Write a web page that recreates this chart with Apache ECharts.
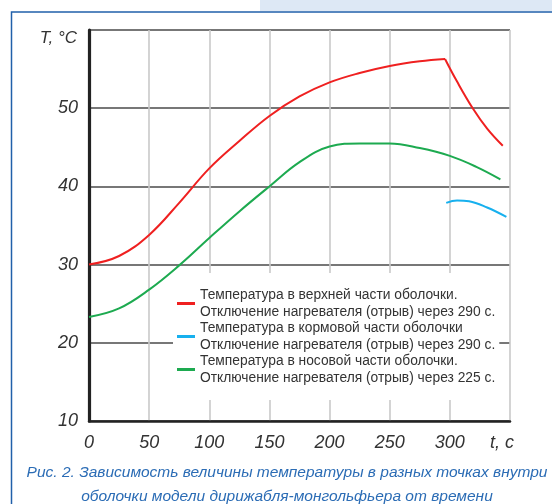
<!DOCTYPE html>
<html>
<head>
<meta charset="utf-8">
<script src="https://cdn.jsdelivr.net/npm/echarts@6/dist/echarts.min.js"></script>
<style>
  html, body { margin: 0; padding: 0; background: #fff; }
  #graph1 { width: 552px; height: 504px; }
</style>
</head>
<body>
<div id="graph1"></div>
<script>
var chart1 = echarts.init(document.getElementById('graph1'));

// значения: [t, c ; T, °C]
var redRise = [[0, 30], [25, 31.1], [50, 33.8], [75, 37.9], [100, 42.3], [125, 45.8], [150, 49.0],
    [175, 51.5], [200, 53.3], [225, 54.5], [250, 55.4], [275, 56.0], [296, 56.3]];
var redFall = [[296, 56.3], [306, 53.4], [319, 50], [331, 47.4], [344, 45.2]];
var blueData = [[297, 37.9], [306, 38.2], [316, 38.1], [331, 37.3], [347, 36.1]];
var greenData = [[0, 23.3], [25, 24.4], [50, 26.8], [75, 29.9], [100, 33.4], [125, 36.8], [150, 40],
    [175, 43.1], [200, 45.1], [225, 45.5], [250, 45.5], [275, 44.9], [300, 43.9], [322, 42.5], [342, 40.9]];

var xTicks = [0, 50, 100, 150, 200, 250, 300];
var seriesNames = ['top', 'stern', 'nose'];
var legendText = {
    top: 'Температура в верхней части оболочки.\nОтключение нагревателя (отрыв) через 290 с.',
    stern: 'Температура в кормовой части оболочки\nОтключение нагревателя (отрыв) через 290 с.',
    nose: 'Температура в носовой части оболочки.\nОтключение нагревателя (отрыв) через 225 с.'
};
var caption = 'Рис. 2. Зависимость величины температуры в разных точках внутри\nоболочки модели дирижабля-монгольфьера от времени';

var RED = '#ef2020', BLUE = '#17b0ee', GREEN = '#1daa50';

option = {
    animation: false,
    grid: {
        left: 89,
        top: 30,
        right: 42,
        bottom: 83
    },
    xAxis: {
        type: 'value',
        min: 0,
        max: 350,
        interval: 50,
        axisLine: { lineStyle: { color: '#222', width: 2.5 } },
        axisTick: { show: false },
        axisLabel: {
            margin: 13,
            color: '#333',
            fontSize: 18,
            fontStyle: 'italic',
            fontFamily: 'Liberation Sans',
            formatter: function (v) {
                return xTicks.indexOf(v) >= 0 ? String(v) : '';
            }
        },
        splitLine: { show: true, lineStyle: { color: '#c9c9c9', width: 1.6 } }
    },
    yAxis: {
        type: 'value',
        min: 10,
        max: 60,
        interval: 10,
        axisLine: { show: true, lineStyle: { color: '#222', width: 3.2 } },
        axisTick: { show: false },
        axisLabel: {
            margin: 11,
            color: '#333',
            fontSize: 18,
            fontStyle: 'italic',
            fontFamily: 'Liberation Sans',
            formatter: function (v) {
                return v === 60 ? '' : String(v);
            }
        },
        splitLine: { show: true, lineStyle: { color: '#4a4a4a', width: 1.6 } }
    },
    legend: {
        orient: 'vertical',
        left: 173,
        top: 273,
        padding: [14, 4, 14, 4],
        itemGap: 0,
        itemWidth: 18,
        itemHeight: 3,
        icon: 'rect',
        backgroundColor: '#fff',
        data: seriesNames,
        formatter: function (name) {
            return legendText[name];
        },
        textStyle: {
            color: '#333',
            fontSize: 13.8,
            lineHeight: 16.5,
            fontFamily: 'Liberation Sans'
        }
    },
    graphic: [
        {
            type: 'rect',
            shape: { x: 260, y: 0, width: 292, height: 11 },
            style: { fill: '#dde8f5' }
        },
        {
            type: 'polyline',
            shape: { points: [[11.5, 504], [11.5, 12], [552, 12]] },
            style: { stroke: '#2160aa', lineWidth: 1.5, fill: null }
        },
        {
            type: 'text',
            x: 77,
            y: 38,
            style: {
                text: 'T, °C',
                fill: '#333',
                font: 'italic 17px "Liberation Sans"',
                textAlign: 'right',
                textVerticalAlign: 'middle'
            }
        },
        {
            type: 'text',
            x: 502,
            y: 443,
            style: {
                text: 't, c',
                fill: '#333',
                font: 'italic 18px "Liberation Sans"',
                textAlign: 'center',
                textVerticalAlign: 'middle'
            }
        },
        {
            type: 'text',
            x: 287,
            y: 485,
            style: {
                text: caption,
                fill: '#2b6cb5',
                font: 'italic 15.5px "Liberation Sans"',
                lineHeight: 24,
                textAlign: 'center',
                textVerticalAlign: 'middle'
            }
        }
    ],
    series: [
        {
            name: 'top',
            type: 'line',
            color: RED,
            smooth: 0.4,
            symbol: 'none',
            lineStyle: { width: 2 },
            data: redRise
        },
        {
            name: 'top',
            type: 'line',
            color: RED,
            smooth: 0.4,
            symbol: 'none',
            lineStyle: { width: 2 },
            data: redFall
        },
        {
            name: 'stern',
            type: 'line',
            color: BLUE,
            smooth: 0.4,
            symbol: 'none',
            lineStyle: { width: 2 },
            data: blueData
        },
        {
            name: 'nose',
            type: 'line',
            color: GREEN,
            smooth: 0.4,
            symbol: 'none',
            lineStyle: { width: 2 },
            data: greenData
        }
    ]
};

option && chart1.setOption(option);
</script>
</body>
</html>
